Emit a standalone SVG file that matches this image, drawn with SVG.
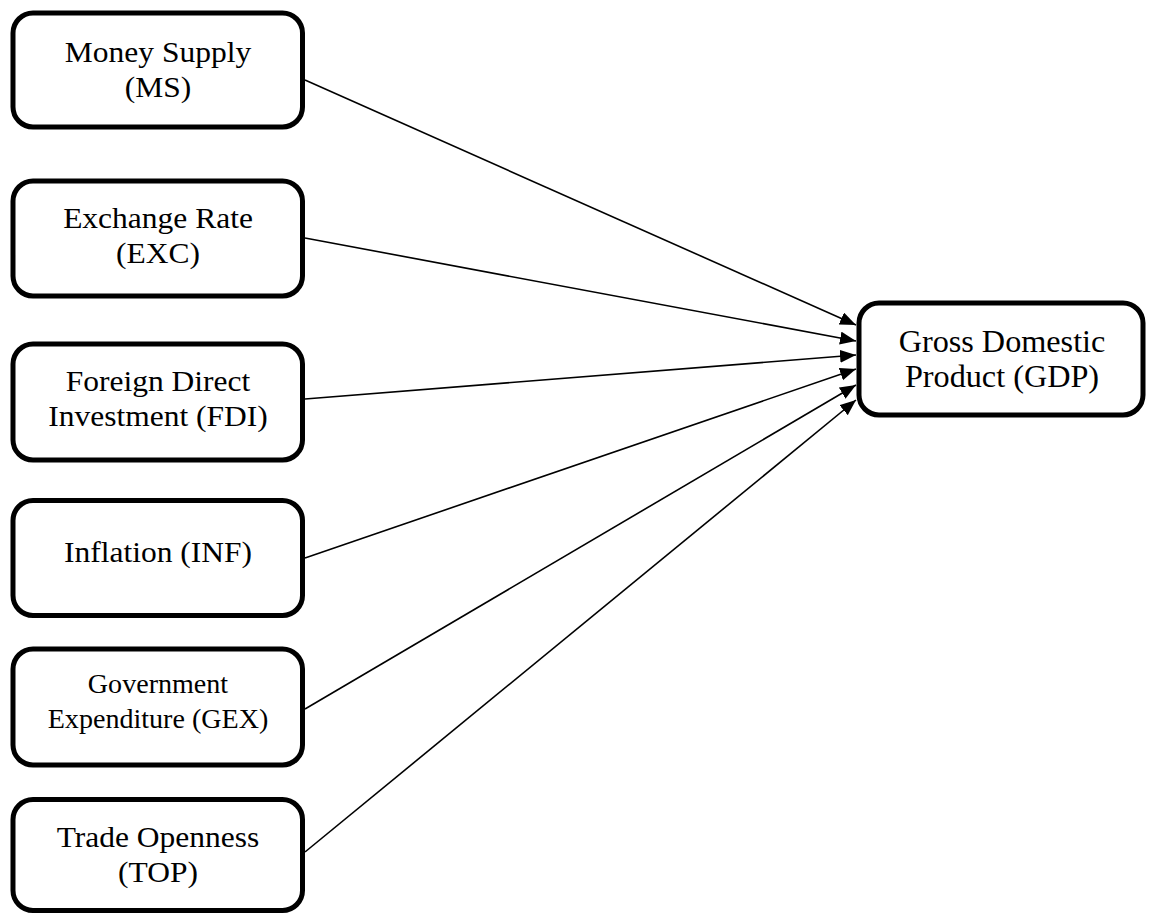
<svg xmlns="http://www.w3.org/2000/svg" width="1155" height="915" viewBox="0 0 1155 915">
  <style>
    .box { fill: #ffffff; stroke: #000000; stroke-width: 5; }
    .lbl { font-family: "Liberation Serif", "Times New Roman", serif; font-size: 30px; fill: #000000; text-anchor: middle; }
    .sm { font-size: 27px; }
    .big { font-size: 31px; }
    .edge { stroke: #000000; stroke-width: 1.6; fill: none; marker-end: url(#arrow); }
  </style>
  <defs>
    <marker id="arrow" markerUnits="userSpaceOnUse" markerWidth="17" markerHeight="14" refX="16" refY="6.5" orient="auto">
      <path d="M0,0 L16,6.5 L0,13 z" fill="#000000"/>
    </marker>
  </defs>
  <rect width="1155" height="915" fill="#ffffff"/>

  <g id="connectors">
    <line class="edge" x1="305" y1="80" x2="856" y2="325"/>
    <line class="edge" x1="305" y1="238" x2="856" y2="341"/>
    <line class="edge" x1="305" y1="399" x2="856" y2="355"/>
    <line class="edge" x1="305" y1="558" x2="856" y2="369"/>
    <line class="edge" x1="305" y1="709" x2="856" y2="385"/>
    <line class="edge" x1="305" y1="852" x2="856" y2="400"/>
  </g>

  <g id="node-ms">
    <rect class="box" x="13" y="13" width="289.5" height="114" rx="20"/>
    <text class="lbl" transform="translate(158 62) scale(1.05 1)">Money Supply</text>
    <text class="lbl" transform="translate(158 97) scale(1.05 1)">(MS)</text>
  </g>

  <g id="node-exc">
    <rect class="box" x="13" y="181" width="289.5" height="115" rx="20"/>
    <text class="lbl" transform="translate(158 228) scale(1.05 1)">Exchange Rate</text>
    <text class="lbl" transform="translate(158 263) scale(1.05 1)">(EXC)</text>
  </g>

  <g id="node-fdi">
    <rect class="box" x="13" y="344" width="289.5" height="116" rx="20"/>
    <text class="lbl" transform="translate(158 391) scale(1.05 1)">Foreign Direct</text>
    <text class="lbl" transform="translate(158 426) scale(1.05 1)">Investment (FDI)</text>
  </g>

  <g id="node-inf">
    <rect class="box" x="13" y="500.5" width="289.5" height="115" rx="20"/>
    <text class="lbl" transform="translate(158 562) scale(1.05 1)">Inflation (INF)</text>
  </g>

  <g id="node-gex">
    <rect class="box" x="13" y="649" width="289.5" height="116" rx="20"/>
    <text class="lbl sm" transform="translate(158 693) scale(1.04 1)">Government</text>
    <text class="lbl sm" transform="translate(158 728) scale(1.04 1)">Expenditure (GEX)</text>
  </g>

  <g id="node-top">
    <rect class="box" x="13" y="799.5" width="289.5" height="111" rx="20"/>
    <text class="lbl" transform="translate(158 847) scale(1.05 1)">Trade Openness</text>
    <text class="lbl" transform="translate(158 882) scale(1.05 1)">(TOP)</text>
  </g>

  <g id="node-gdp">
    <rect class="box" x="859" y="303" width="284" height="112" rx="20"/>
    <text class="lbl big" transform="translate(1002 352) scale(1.04 1)">Gross Domestic</text>
    <text class="lbl big" transform="translate(1002 387) scale(1.04 1)">Product (GDP)</text>
  </g>
</svg>
